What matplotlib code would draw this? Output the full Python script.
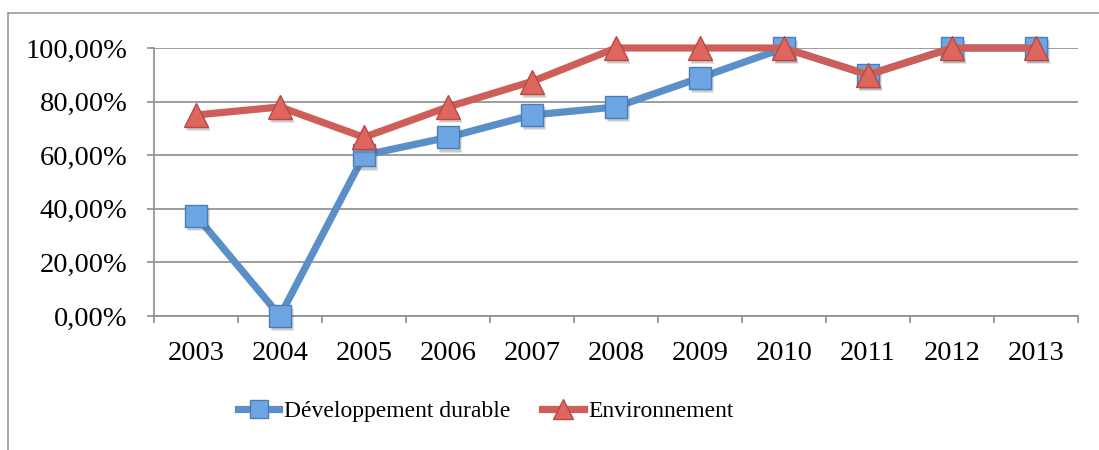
import matplotlib
matplotlib.use("Agg")
import matplotlib.pyplot as plt
import matplotlib.transforms as mtransforms
from matplotlib.lines import Line2D
import numpy as np

years = ["2003", "2004", "2005", "2006", "2007", "2008", "2009", "2010", "2011", "2012", "2013"]
dev_durable = [0.375, 0.0, 0.60, 0.6667, 0.75, 0.78, 0.8889, 1.0, 0.90, 1.0, 1.0]
environnement = [0.75, 0.78, 0.6667, 0.78, 0.875, 1.0, 1.0, 1.0, 0.90, 1.0, 1.0]
series_names = ["Développement durable", "Environnement"]
yticks = [0.0, 0.2, 0.4, 0.6, 0.8, 1.0]

plt.rcParams['font.family'] = ['Liberation Serif', 'DejaVu Serif']

W, H = 1099, 450
fig = plt.figure(figsize=(W / 100, H / 100), dpi=100)
ax = fig.add_axes([154 / W, 1 - 316 / H, (1078 - 154) / W, (316 - 48) / H])

x = np.arange(len(years))
blue_line = "#5A8FC8"
blue_fill = "#6EA6E4"
blue_edge = "#4A7EBB"
red_line = "#CD5F58"
red_fill = "#DE665E"
red_edge = "#B84A45"
LW = 5.2

shadow_tr = mtransforms.offset_copy(ax.transData, fig=fig, x=1.5, y=-2.5, units='points')

# Développement durable
ax.plot(x, dev_durable, color=blue_line, lw=LW, solid_joinstyle='miter', zorder=3, clip_on=False)
ax.plot(x, dev_durable, ls='none', marker='s', ms=15.5, mfc="#555555", mec='none', alpha=0.3,
        transform=shadow_tr, zorder=3.5, clip_on=False)
ax.plot(x, dev_durable, ls='none', marker='s', ms=15.5, mfc=blue_fill, mec=blue_edge, mew=1.0,
        zorder=4, clip_on=False)
# Environnement
ax.plot(x, environnement, color=red_line, lw=LW, solid_joinstyle='miter', zorder=5, clip_on=False)
ax.plot(x, environnement, ls='none', marker='^', ms=17, mfc="#555555", mec='none', alpha=0.3,
        transform=shadow_tr, zorder=5.5, clip_on=False)
ax.plot(x, environnement, ls='none', marker='^', ms=17, mfc=red_fill, mec=red_edge, mew=1.0,
        zorder=6, clip_on=False)

ax.set_xlim(-0.5, len(years) - 0.5)
ax.set_ylim(0, 1)
ax.set_yticks(yticks)
ax.set_yticklabels([f"{v*100:.2f}%".replace('.', ',') for v in yticks])
ax.set_xticks(x)
ax.set_xticklabels(years)
ax.set_xticks(np.arange(-0.5, len(years), 1.0), minor=True)
ax.tick_params(axis='x', which='major', length=0, pad=18, labelsize=20.5)
ax.tick_params(axis='x', which='minor', length=5, width=1.2, color="#8C8C8C", direction='out')
ax.tick_params(axis='y', length=5, width=1.2, color="#8C8C8C", pad=14, labelsize=20.5)

ax.grid(axis='y', color="#8C8C8C", lw=1.2)
ax.set_axisbelow(True)
for s in ['top', 'right']:
    ax.spines[s].set_visible(False)
for s in ['left', 'bottom']:
    ax.spines[s].set_color("#8C8C8C")
    ax.spines[s].set_linewidth(1.2)

# outer chart frame
fig.add_artist(Line2D([8 / W, 8 / W], [0, 1 - 13 / H], transform=fig.transFigure, color="#9A9A9A", lw=1.2))
fig.add_artist(Line2D([8 / W, 1.0], [1 - 13 / H, 1 - 13 / H], transform=fig.transFigure, color="#9A9A9A", lw=1.2))

handles = [
    Line2D([], [], color=blue_line, lw=LW, marker='s', ms=13, mfc=blue_fill, mec=blue_edge),
    Line2D([], [], color=red_line, lw=LW, marker='^', ms=14, mfc=red_fill, mec=red_edge),
]
fig.legend(handles, series_names, loc='center', bbox_to_anchor=(486 / W, 1 - 411 / H), ncol=2,
           frameon=False, fontsize=17, handlelength=1.74, handletextpad=0.2, columnspacing=1.35)

fig.savefig("out.png", dpi=100)
